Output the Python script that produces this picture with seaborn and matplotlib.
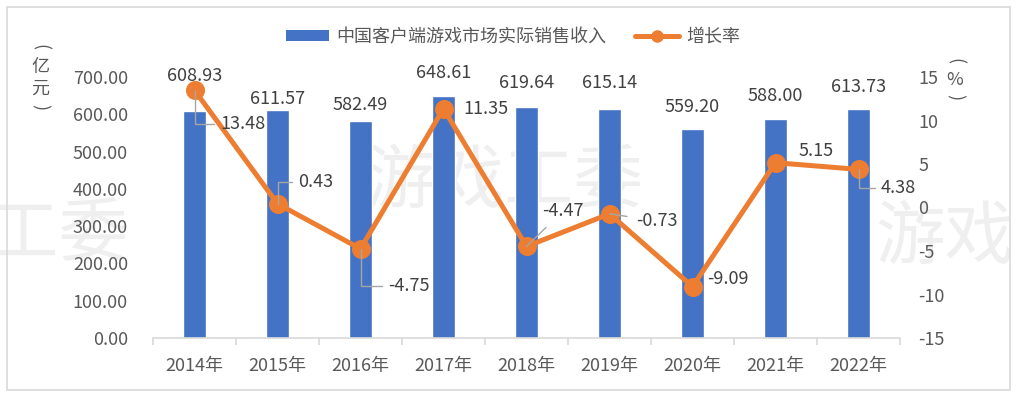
import numpy as np
import pandas as pd
import matplotlib
matplotlib.use("Agg")
import matplotlib.pyplot as plt
from matplotlib.patches import Rectangle, Patch
from matplotlib.lines import Line2D
import seaborn as sns

# data
years = ["2014年", "2015年", "2016年", "2017年", "2018年",
         "2019年", "2020年", "2021年", "2022年"]
revenue = [608.93, 611.57, 582.49, 648.61, 619.64, 615.14, 559.20, 588.00, 613.73]
growth = [13.48, 0.43, -4.75, 11.35, -4.47, -0.73, -9.09, 5.15, 4.38]
left_ticks = [0, 100, 200, 300, 400, 500, 600, 700]
right_ticks = [-15, -10, -5, 0, 5, 10, 15]
bar_name = "中国客户端游戏市场实际销售收入"
line_name = "增长率"

BLUE = "#4472C4"
ORANGE = "#ED7D31"
TICK = "#595959"
LABEL = "#404040"

sns.set_theme(style="white")
plt.rcParams["font.family"] = ["Noto Sans CJK SC", "DejaVu Sans"]
plt.rcParams["axes.unicode_minus"] = False

df = pd.DataFrame({"year": years, "revenue": revenue, "growth": growth})

W, H = 1017, 393
fig = plt.figure(figsize=(W / 100, H / 100), dpi=100)
ax = fig.add_axes([153 / W, 1 - 338 / H, (900 - 153) / W, (338 - 77) / H])
ax.set_facecolor("none")

sns.barplot(data=df, x="year", y="revenue", color=BLUE, width=0.27,
            saturation=1, ax=ax, zorder=2)
ax.set_ylim(0, 700)
ax.set_yticks(left_ticks)
ax.set_yticklabels([f"{t:.2f}" for t in left_ticks])
ax.set_xlim(-0.5, len(years) - 0.5)
ax.set_xlabel("")
ax.set_ylabel("")
for s in ["top", "right", "left"]:
    ax.spines[s].set_visible(False)
ax.spines["bottom"].set_color("#d9d9d9")
ax.spines["bottom"].set_linewidth(1.2)
ax.tick_params(axis="y", length=0, labelsize=13, labelcolor=TICK, pad=18)
ax.tick_params(axis="x", which="major", length=0, labelsize=13,
               labelcolor=TICK, pad=14)
# category boundary ticks
ax.set_xticks(np.arange(-0.5, len(years), 1.0), minor=True)
ax.tick_params(axis="x", which="minor", bottom=True, length=5, width=1.2,
               color="#d9d9d9")

# bar value labels (offsets in pixels from bar top to label centre)
bar_off = [35, 11, 16, 23, 24, 26, 22, 23, 22]
for i, v in enumerate(revenue):
    ax.annotate(f"{v:.2f}", (i, v), xytext=(0, bar_off[i]),
                textcoords="offset pixels", ha="center", va="center",
                fontsize=13, color=LABEL, zorder=5)

ax2 = ax.twinx()
sns.pointplot(data=df, x="year", y="growth", color=ORANGE, ax=ax2,
              linewidth=3.6, markersize=11, zorder=4)
ax2.set_ylim(-15, 15)
ax2.set_xlim(-0.5, len(years) - 0.5)
ax2.set_yticks(right_ticks)
ax2.set_ylabel("")
ax2.set_xlabel("")
for s in ax2.spines.values():
    s.set_visible(False)
ax2.tick_params(axis="y", length=0, labelsize=13, labelcolor=TICK, pad=13)

# growth labels with leader lines (offsets in pixels)
g_off = [(48, -34), (38, 22), (48, -37), (42, 0), (36, 35),
         (47, -7), (35, 8), (41, 12), (40, -19)]
g_lead = ["angle", "angle", "angle", None, "arc3", "arc3", None, None, "angle"]
for i, v in enumerate(growth):
    dx, dy = g_off[i]
    props = None
    if g_lead[i] == "angle":
        props = dict(arrowstyle="-", color="#a6a6a6", lw=1, shrinkA=2,
                     shrinkB=0, connectionstyle="angle,angleA=0,angleB=90")
    elif g_lead[i] == "arc3":
        props = dict(arrowstyle="-", color="#a6a6a6", lw=1, shrinkA=4,
                     shrinkB=0)
    ax2.annotate(f"{v:.2f}", (i, v), xytext=(dx, dy),
                 textcoords="offset pixels", ha="center", va="center",
                 fontsize=13, color=LABEL, arrowprops=props, zorder=6)

# axis unit labels, stacked vertically
unit_style = dict(ha="center", va="center", fontsize=13, color=TICK)
fig.text(40 / W, 1 - 47 / H, "(", rotation=-90, **unit_style)
fig.text(40 / W, 1 - 67 / H, "亿", **unit_style)
fig.text(40 / W, 1 - 89 / H, "元", **unit_style)
fig.text(40 / W, 1 - 107 / H, ")", rotation=-90, **unit_style)
fig.text(955 / W, 1 - 61 / H, "(", rotation=-90, **unit_style)
fig.text(955 / W, 1 - 80 / H, "%", **unit_style)
fig.text(955 / W, 1 - 97 / H, ")", rotation=-90, **unit_style)

# legend
handles = [Patch(facecolor=BLUE, edgecolor="none"),
           Line2D([0], [0], color=ORANGE, lw=3.6, marker="o", markersize=8)]
fig.legend(handles, [bar_name, line_name], loc="center", ncol=2,
           bbox_to_anchor=(513 / W, 1 - 37 / H), frameon=False, fontsize=13,
           handlelength=2.4, handleheight=0.55, columnspacing=1.6,
           handletextpad=0.4, labelcolor=TICK)

# watermark
wm = dict(fontsize=50, color="#efefef", zorder=-1, ha="left", va="center")
fig.text(-150 / W, 1 - 235 / H, "游戏工委", **wm)
fig.text(365 / W, 1 - 182 / H, "游戏工委", **wm)
fig.text(875 / W, 1 - 238 / H, "游戏工委", **wm)

# outer frame
fig.patches.append(Rectangle((7 / W, 3 / H), 1003 / W, 383 / H,
                             transform=fig.transFigure, fill=False,
                             edgecolor="#d9d9d9", lw=1.2))

fig.savefig("out.png", dpi=100)
